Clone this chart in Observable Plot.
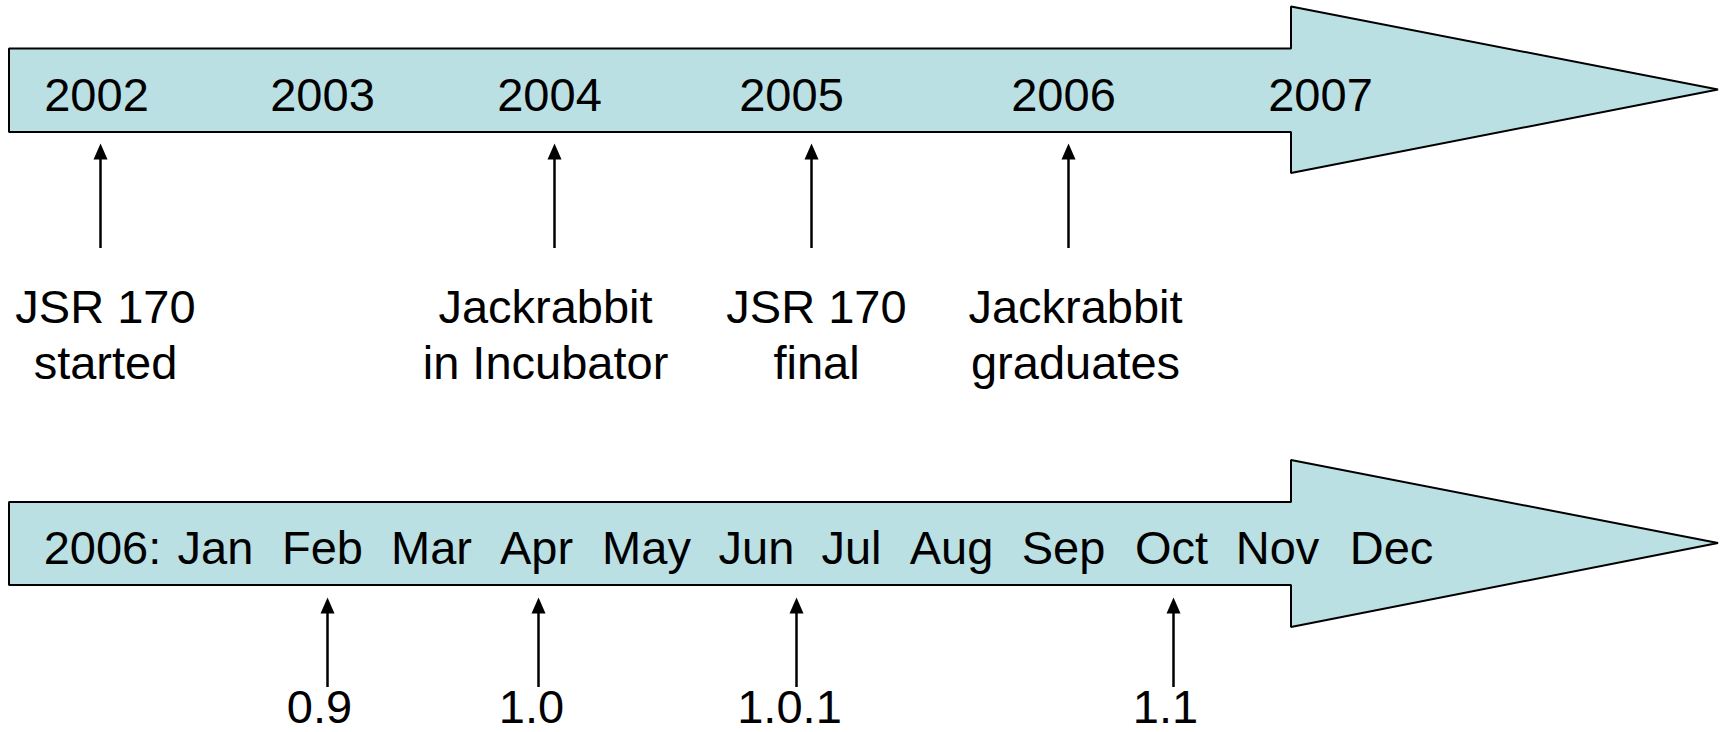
<!DOCTYPE html>
<html>
<head>
<meta charset="utf-8">
<script src="https://cdn.jsdelivr.net/npm/d3@7"></script>
<script src="https://cdn.jsdelivr.net/npm/@observablehq/plot@0.6"></script>
<style>
  html, body { margin: 0; padding: 0; background: #ffffff; }
  #chart svg { display: block; }
</style>
</head>
<body>
<div id="chart"></div>
<script>
// ---- Data ----
// Upper timeline: years
const years = ["2002", "2003", "2004", "2005", "2006", "2007"];
const yearPos = [96, 322, 549, 791, 1063, 1320];

// Upper timeline: milestones
const events = ["JSR 170\nstarted", "Jackrabbit\nin Incubator", "JSR 170\nfinal", "Jackrabbit\ngraduates"];
const eventArrowPos = [100, 554, 811, 1068];
const eventLabelPos = [105, 545, 816, 1075];

// Lower timeline: months of 2006
const months = ["2006:", "Jan", "Feb", "Mar", "Apr", "May", "Jun", "Jul", "Aug", "Sep", "Oct", "Nov", "Dec"];
const monthPos = [102, 215, 322, 431, 536, 646, 756, 851, 951, 1063, 1171, 1277, 1391];

// Lower timeline: releases
const releases = ["0.9", "1.0", "1.0.1", "1.1"];
const releaseArrowPos = [327, 538, 796, 1173];
const releaseLabelPos = [319, 531, 789, 1165];

// Block-arrow outlines (x, top edge, bottom edge)
const yearsArrow = [
  {x: 9, top: 48.5, bottom: 132},
  {x: 1291, top: 48.5, bottom: 132},
  {x: 1291, top: 6.6, bottom: 173},
  {x: 1718, top: 89.5, bottom: 89.5}
];
const monthsArrow = [
  {x: 9, top: 502, bottom: 585},
  {x: 1291, top: 502, bottom: 585},
  {x: 1291, top: 460, bottom: 627},
  {x: 1718, top: 543, bottom: 543}
];

// Row layout (vertical positions in slide units)
const rows = {
  yearBaseline: 110,
  eventTip: 143, eventFoot: 248, eventBaseline: 378,
  monthBaseline: 563,
  releaseTip: 597, releaseFoot: 687, releaseBaseline: 722
};

const FILL = "#bae0e3";
const FONT = "'Liberation Sans', Arial, Helvetica, sans-serif";
const FS = 47;

// Filled arrowhead symbol, tip at the origin, pointing up
const arrowHead = {
  draw(context) {
    context.moveTo(0, 0);
    context.lineTo(7, 16);
    context.lineTo(-7, 16);
    context.closePath();
  }
};

const chart = Plot.plot({
  width: 1727,
  height: 732,
  margin: 0,
  x: {domain: [0, 1727], axis: null},
  y: {domain: [0, 732], range: [0, 732], axis: null},
  style: {fontFamily: FONT, background: "#ffffff", color: "#000"},
  marks: [
    // block arrows
    Plot.area(yearsArrow, {x1: "x", y1: "top", y2: "bottom", fill: FILL, stroke: "#000", strokeWidth: 2, strokeLinejoin: "miter", curve: "linear"}),
    Plot.area(monthsArrow, {x1: "x", y1: "top", y2: "bottom", fill: FILL, stroke: "#000", strokeWidth: 2, strokeLinejoin: "miter", curve: "linear"}),

    // year labels
    Plot.text(years, {x: (d, i) => yearPos[i], y: () => rows.yearBaseline, text: d => d, fontSize: FS, lineAnchor: "bottom", fill: "#000"}),

    // milestone arrows
    Plot.ruleX(eventArrowPos, {x: d => d, y1: () => rows.eventTip + 12, y2: () => rows.eventFoot, stroke: "#000", strokeWidth: 2.5}),
    Plot.dot(eventArrowPos, {x: d => d, y: () => rows.eventTip, symbol: arrowHead, fill: "#000", stroke: "none"}),

    // milestone labels
    Plot.text(events, {x: (d, i) => eventLabelPos[i], y: () => rows.eventBaseline, text: d => d, fontSize: FS, lineAnchor: "bottom", lineHeight: 56 / FS, fill: "#000"}),

    // month labels
    Plot.text(months, {x: (d, i) => monthPos[i], y: () => rows.monthBaseline, text: d => d, fontSize: FS, lineAnchor: "bottom", fill: "#000"}),

    // release arrows
    Plot.ruleX(releaseArrowPos, {x: d => d, y1: () => rows.releaseTip + 12, y2: () => rows.releaseFoot, stroke: "#000", strokeWidth: 2.5}),
    Plot.dot(releaseArrowPos, {x: d => d, y: () => rows.releaseTip, symbol: arrowHead, fill: "#000", stroke: "none"}),

    // release labels
    Plot.text(releases, {x: (d, i) => releaseLabelPos[i], y: () => rows.releaseBaseline, text: d => d, fontSize: FS, lineAnchor: "bottom", fill: "#000"})
  ]
});

document.getElementById("chart").appendChild(chart);
</script>
</body>
</html>
